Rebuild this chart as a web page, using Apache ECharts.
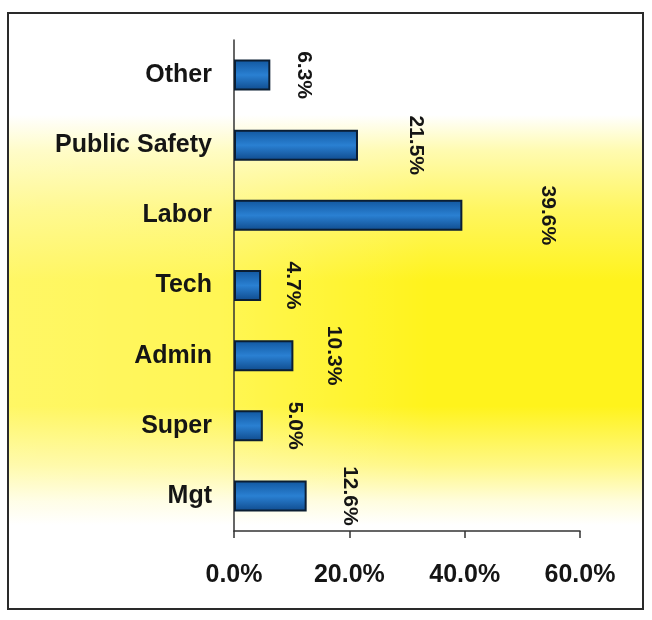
<!DOCTYPE html>
<html>
<head>
<meta charset="utf-8">
<script src="https://cdn.jsdelivr.net/npm/echarts@6/dist/echarts.min.js"></script>
<style>
html,body{margin:0;padding:0;background:#fff;}
#c{width:652px;height:620px;}
</style>
</head>
<body>
<div id="c"></div>
<script>
const categories = ['Other', 'Public Safety', 'Labor', 'Tech', 'Admin', 'Super', 'Mgt'];
const values = [6.3, 21.5, 39.6, 4.7, 10.3, 5.0, 12.6];
const xTicks = [0, 20, 40, 60];

const chart = echarts.init(document.getElementById('c'), null, {renderer: 'canvas'});
const FONT = '"Liberation Sans", Arial, sans-serif';

const option = {
  animation: false,
  backgroundColor: '#ffffff',
  graphic: [
    {
      type: 'rect', z: -10, silent: true,
      shape: {x: 9, y: 14, width: 633, height: 594},
      style: {
        fill: new echarts.graphic.LinearGradient(0, 0, 0, 1, [
          {offset: 0.00, color: '#ffffff'},
          {offset: 0.17, color: '#ffffff'},
          {offset: 0.23, color: '#fffbb0'},
          {offset: 0.33, color: '#fff660'},
          {offset: 0.45, color: '#fff31c'},
          {offset: 0.66, color: '#fff31c'},
          {offset: 0.76, color: '#fff886'},
          {offset: 0.82, color: '#fffddc'},
          {offset: 0.86, color: '#ffffff'},
          {offset: 1.00, color: '#ffffff'}
        ])
      }
    },
    {
      type: 'rect', z: -9, silent: true,
      shape: {x: 9, y: 14, width: 420, height: 594},
      style: {
        fill: new echarts.graphic.LinearGradient(0, 0, 1, 0, [
          {offset: 0, color: 'rgba(255,255,255,0.32)'},
          {offset: 0.5, color: 'rgba(255,255,255,0.25)'},
          {offset: 1, color: 'rgba(255,255,255,0)'}
        ])
      }
    },
    {
      type: 'rect', z: 10, silent: true,
      shape: {x: 8, y: 13, width: 635, height: 596},
      style: {fill: 'none', stroke: '#2a2a2a', lineWidth: 2}
    }
  ],
  grid: {left: 234, right: 72, top: 40, bottom: 89, containLabel: false},
  xAxis: {
    type: 'value',
    min: xTicks[0],
    max: xTicks[xTicks.length - 1],
    interval: xTicks[1] - xTicks[0],
    axisLine: {show: true, lineStyle: {color: '#333', width: 1.5}},
    axisTick: {show: true, length: 7, lineStyle: {color: '#333', width: 1.5}},
    splitLine: {show: false},
    axisLabel: {
      margin: 32,
      color: '#151515',
      fontSize: 25,
      fontWeight: 'bold',
      fontFamily: FONT,
      formatter: v => v.toFixed(1) + '%'
    }
  },
  yAxis: {
    type: 'category',
    data: categories,
    inverse: true,
    axisLine: {show: true, lineStyle: {color: '#333', width: 1.5}},
    axisTick: {show: false},
    axisLabel: {
      margin: 22,
      color: '#151515',
      fontSize: 25,
      fontWeight: 'bold',
      fontFamily: FONT
    }
  },
  series: [{
    type: 'bar',
    barWidth: 31,
    data: values.map(v => ({
      value: v,
      label: {distance: 24 + 1.55 * v}
    })),
    itemStyle: {
      color: new echarts.graphic.LinearGradient(0, 0, 0, 1, [
        {offset: 0, color: '#11569e'},
        {offset: 0.5, color: '#2a80d2'},
        {offset: 1, color: '#0f4a8c'}
      ]),
      borderColor: '#0b1e33',
      borderWidth: 2
    },
    label: {
      show: true,
      position: 'right',
      rotate: -90,
      align: 'center',
      verticalAlign: 'middle',
      color: '#151515',
      fontSize: 21,
      fontWeight: 'bold',
      fontFamily: FONT,
      formatter: p => p.value.toFixed(1) + '%'
    }
  }]
};
chart.setOption(option);
</script>
</body>
</html>
